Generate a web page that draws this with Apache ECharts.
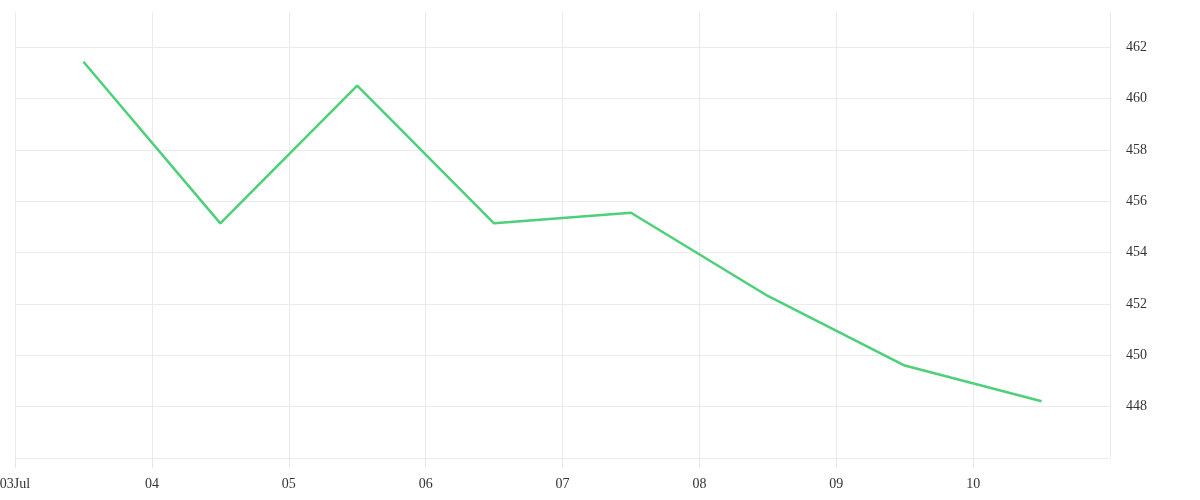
<!DOCTYPE html>
<html>
<head>
<meta charset="utf-8">
<script src="https://cdn.jsdelivr.net/npm/echarts@6/dist/echarts.min.js"></script>
<style>
html,body{margin:0;padding:0;background:#fff;}
#chart{width:1200px;height:500px;}
</style>
</head>
<body>
<div id="chart"></div>
<script>
// Data: one point per day at midday, 3 Jul – 10 Jul
const dates = ['2023-07-03', '2023-07-04', '2023-07-05', '2023-07-06', '2023-07-07', '2023-07-08', '2023-07-09', '2023-07-10'];
const values = [461.43, 455.14, 460.50, 455.14, 455.55, 452.31, 449.60, 448.21];
const yTicks = [448, 450, 452, 454, 456, 458, 460, 462];

function toTime(s, h) {
  const p = s.split('-').map(Number);
  return new Date(p[0], p[1] - 1, p[2], h, 0, 0).getTime();
}
const seriesData = dates.map((d, i) => [toTime(d, 12), values[i]]);
const xMin = toTime('2023-07-03', 0);
const xMax = toTime('2023-07-11', 0);
const DAY = 86400000;
const months = ['Jan','Feb','Mar','Apr','May','Jun','Jul','Aug','Sep','Oct','Nov','Dec'];

const chart = echarts.init(document.getElementById('chart'));
chart.setOption({
  animation: false,
  backgroundColor: '#ffffff',
  grid: { left: 15, right: 90, top: 12, bottom: 42, containLabel: false, outerBoundsMode: 'none' },
  xAxis: {
    type: 'time',
    min: xMin,
    max: xMax,
    interval: DAY,
    minInterval: DAY,
    maxInterval: DAY,
    axisLine: { show: true, lineStyle: { color: '#ebebeb', width: 1 } },
    axisTick: { show: true, inside: false, length: 10, lineStyle: { color: '#e6e6e6', width: 1 } },
    splitLine: { show: true, lineStyle: { color: '#ebebeb', width: 1 } },
    axisLabel: {
      showMaxLabel: false,
      margin: 19,
      color: '#333',
      fontFamily: 'Liberation Serif',
      fontSize: 14,
      formatter: function (v) {
        const d = new Date(v);
        const dd = String(d.getDate()).padStart(2, '0');
        if (d.getDate() === 3) return dd + months[d.getMonth()];
        return dd;
      }
    }
  },
  yAxis: {
    type: 'value',
    position: 'right',
    min: 446,
    max: 463.37,
    interval: 2,
    axisLine: { show: false },
    axisTick: { show: false },
    splitLine: { show: true, showMaxLine: false, lineStyle: { color: '#ebebeb', width: 1 } },
    axisLabel: {
      showMinLabel: false,
      showMaxLabel: false,
      margin: 16,
      color: '#333',
      fontFamily: 'Liberation Serif',
      fontSize: 14,
      formatter: function (v) {
        return yTicks.indexOf(v) >= 0 ? String(v) : '';
      }
    }
  },
  series: [{
    type: 'line',
    data: seriesData,
    showSymbol: false,
    symbol: 'none',
    lineStyle: { color: '#4cd07a', width: 2.5 },
    itemStyle: { color: '#4cd07a' }
  }]
});
</script>
</body>
</html>
